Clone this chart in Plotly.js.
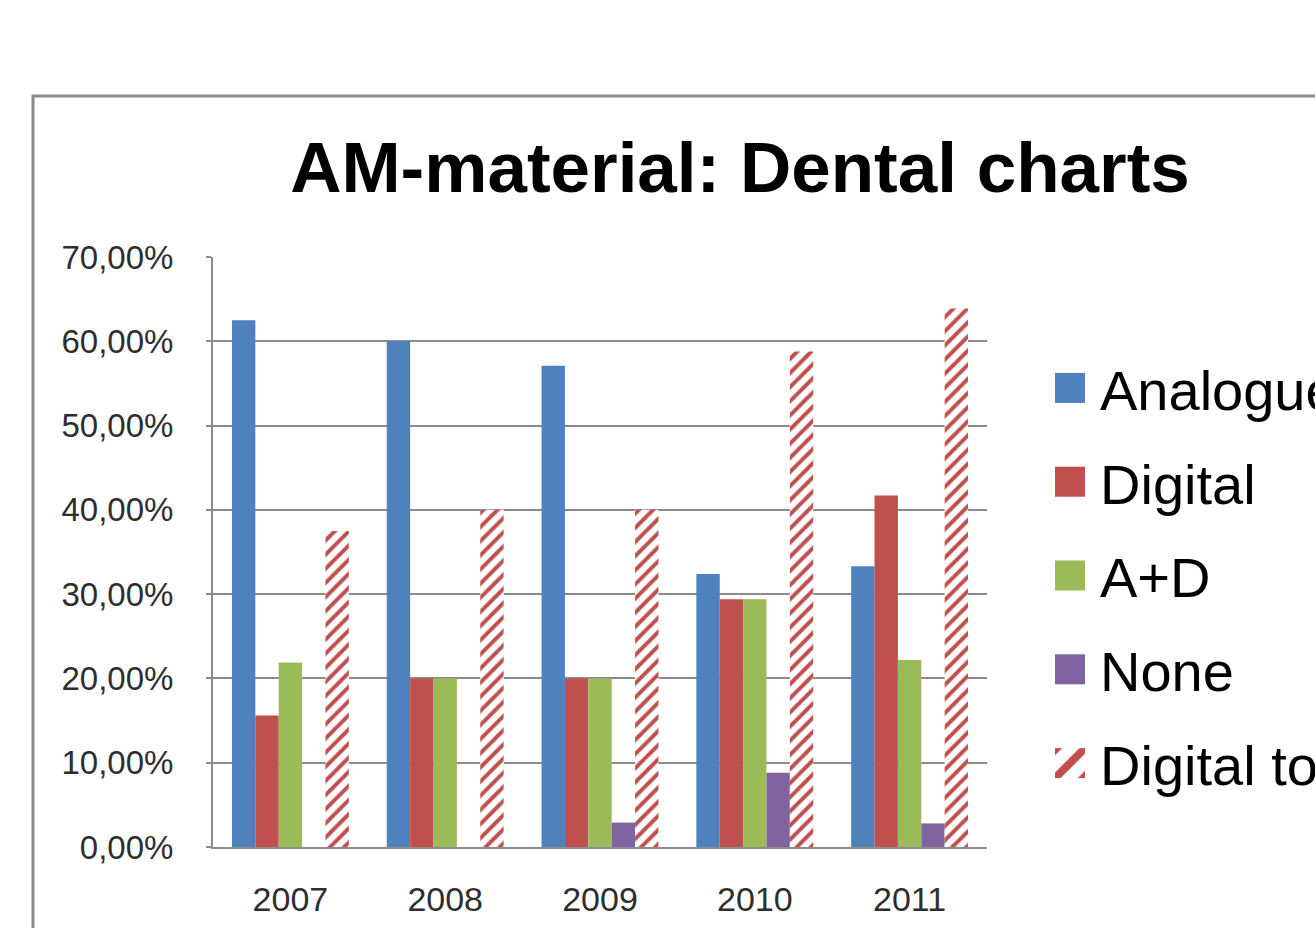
<!DOCTYPE html>
<html>
<head>
<meta charset="utf-8">
<script src="https://cdn.plot.ly/plotly-3.0.1.min.js"></script>
<style>
html, body { margin: 0; padding: 0; background: #fff; overflow: hidden; }
#chart { width: 1315px; height: 928px; }
</style>
</head>
<body>
<div id="chart"></div>
<script>
const years = ['2007', '2008', '2009', '2010', '2011'];
const analogue = [0.625, 0.600, 0.571, 0.324, 0.333];
const digital = [0.156, 0.200, 0.200, 0.294, 0.417];
const aPlusD = [0.219, 0.200, 0.200, 0.294, 0.222];
const none = [0.000, 0.000, 0.029, 0.088, 0.028];
const digitalTotal = [0.375, 0.400, 0.400, 0.588, 0.639];
const seriesNames = ['Analogue', 'Digital', 'A+D', 'None', 'Digital total'];
const yTickVals = [0, 0.1, 0.2, 0.3, 0.4, 0.5, 0.6, 0.7];

const colors = ['#4F81BD', '#C0504D', '#9BBB59', '#8064A2', '#C0504D'];
const values = [analogue, digital, aPlusD, none, digitalTotal];

const traces = values.map((v, i) => {
  const t = {
    type: 'bar',
    name: seriesNames[i],
    x: years,
    y: v,
    legendgroup: 'g' + i,
    marker: { color: colors[i], line: { width: 0 } },
    hoverinfo: 'x+y+name'
  };
  if (i === 4) {
    t.marker = {
      color: '#ffffff',
      line: { width: 0 },
      pattern: { shape: '/', fgcolor: '#C0504D', bgcolor: '#ffffff', size: 10, solidity: 0.4, fillmode: 'replace' }
    };
  }
  return t;
});

const L = 213, R = 987, T = 257, B = 847, W = 1315, H = 928;
const pw = R - L, ph = B - T;
const px2x = p => (p - L) / pw;
const px2y = p => (B - p) / ph;

const layout = {
  width: W,
  height: H,
  margin: { l: L, r: W - R, t: T, b: H - B, pad: 0, autoexpand: false },
  paper_bgcolor: '#ffffff',
  plot_bgcolor: '#ffffff',
  separators: ', ',
  barmode: 'group',
  bargap: 0.245,
  bargroupgap: 0,
  showlegend: true,
  font: { family: 'Liberation Sans, Arial, sans-serif', color: '#000' },
  title: {
    text: 'AM-material: Dental charts',
    font: { family: 'Liberation Sans, Arial, sans-serif', size: 71, weight: 'bold', color: '#000' },
    xref: 'container', yref: 'container',
    x: 740 / W, xanchor: 'center',
    y: 1 - 167 / H, yanchor: 'middle'
  },
  xaxis: {
    type: 'category',
    showline: true, linecolor: '#8c8c8c', linewidth: 2,
    showgrid: false, zeroline: false,
    ticks: '', ticklabelstandoff: 21,
    tickfont: { family: 'Liberation Sans, Arial, sans-serif', size: 34, color: '#2e2e2e' }
  },
  yaxis: {
    range: [0, 0.7],
    tickvals: yTickVals,
    tickformat: '.2%',
    showline: true, linecolor: '#8c8c8c', linewidth: 2,
    showgrid: true, gridcolor: '#8c8c8c', gridwidth: 2,
    zeroline: false,
    ticks: 'outside', ticklen: 5, tickcolor: '#8c8c8c', tickwidth: 2,
    ticklabelstandoff: 26,
    tickfont: { family: 'Liberation Sans, Arial, sans-serif', size: 33, color: '#2e2e2e' }
  },
  legend: {
    x: px2x(1050), xanchor: 'left',
    y: px2y(345), yanchor: 'top',
    font: { family: 'Liberation Sans, Arial, sans-serif', size: 56, color: '#000' },
    tracegroupgap: 18,
    itemwidth: 40,
    bgcolor: 'rgba(0,0,0,0)',
    borderwidth: 0,
    traceorder: 'grouped'
  },
  shapes: [{
    type: 'rect', xref: 'paper', yref: 'paper',
    x0: px2x(33), x1: px2x(1330),
    y0: px2y(945), y1: px2y(96),
    line: { color: '#8a8a8a', width: 3 },
    fillcolor: 'rgba(0,0,0,0)',
    layer: 'below'
  }]
};

Plotly.newPlot('chart', traces, layout, { displayModeBar: false, staticPlot: true }).then(() => {
  document.querySelectorAll('#chart .legend .legendpoints path').forEach(p => {
    p.setAttribute('transform', 'translate(20,0) scale(2.5)');
  });
});
</script>
</body>
</html>
